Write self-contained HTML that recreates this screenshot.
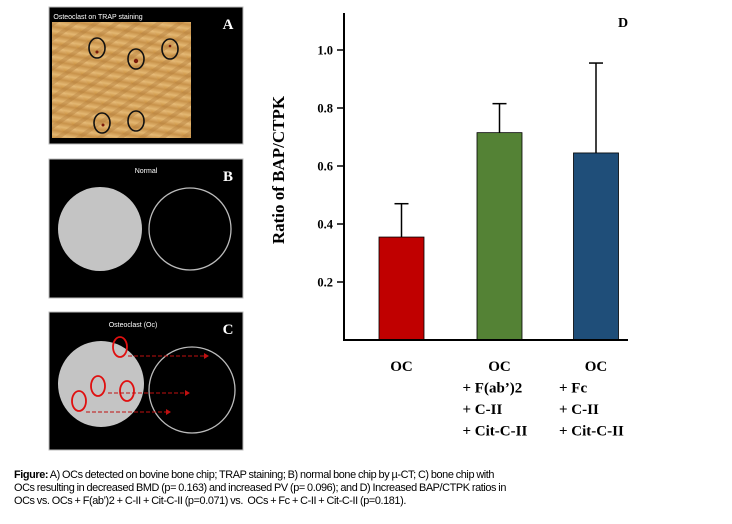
<!DOCTYPE html>
<html><head><meta charset="utf-8">
<style>
html,body{margin:0;padding:0;background:#fff;width:732px;height:524px;overflow:hidden;}
svg{display:block;}
.cap{position:absolute;left:14px;top:469px;width:500px;font-family:"Liberation Sans",sans-serif;font-size:10.9px;line-height:13px;color:#000;letter-spacing:-0.4px;word-spacing:-0.4px;}
</style></head><body>
<svg width="732" height="524">
<defs>
<linearGradient id="bone" x1="0" y1="1" x2="1" y2="0">
<stop offset="0" stop-color="#c98f3e"/><stop offset="0.25" stop-color="#e3b772"/><stop offset="0.5" stop-color="#c8924a"/><stop offset="0.75" stop-color="#e6bb78"/><stop offset="1" stop-color="#cf9850"/>
</linearGradient>
<pattern id="stripes" width="12" height="12" patternUnits="userSpaceOnUse" patternTransform="rotate(-35)">
<rect width="12" height="12" fill="url(#bone)"/><rect width="12" height="4" fill="#b47f3c" opacity="0.45"/>
</pattern>
</defs>
<g>
<rect x="49" y="7" width="194" height="137" fill="#000" stroke="#bbb" stroke-width="1"/>
<rect x="52" y="22" width="139" height="116" fill="url(#stripes)"/>
<text x="98" y="19" font-family="Liberation Sans,sans-serif" font-size="7" fill="#fff" text-anchor="middle">Osteoclast on TRAP staining</text>
<text x="228" y="29" font-family="Liberation Serif,serif" font-size="15" font-weight="bold" fill="#fff" text-anchor="middle">A</text>
<g fill="none" stroke="#111" stroke-width="1.6">
<ellipse cx="97" cy="48" rx="8" ry="10"/><ellipse cx="136" cy="59" rx="8" ry="10"/><ellipse cx="170" cy="49" rx="8" ry="10"/>
<ellipse cx="102" cy="123" rx="8" ry="10"/><ellipse cx="136" cy="121" rx="8" ry="10"/></g>
<g fill="#7a1a0a"><circle cx="97" cy="52" r="1.5"/><circle cx="136" cy="61" r="2.2"/><circle cx="170" cy="46" r="1.3"/><circle cx="103" cy="125" r="1.5"/></g>
</g>
<g>
<rect x="49" y="159" width="194" height="139" fill="#000" stroke="#bbb" stroke-width="1"/>
<text x="146" y="173" font-family="Liberation Sans,sans-serif" font-size="7" fill="#fff" text-anchor="middle">Normal</text>
<text x="228" y="181" font-family="Liberation Serif,serif" font-size="15" font-weight="bold" fill="#fff" text-anchor="middle">B</text>
<circle cx="100" cy="229" r="42" fill="#c4c4c4"/>
<circle cx="190" cy="229" r="41" fill="none" stroke="#bbb" stroke-width="1.3"/>
</g>
<g>
<rect x="49" y="312" width="194" height="138" fill="#000" stroke="#bbb" stroke-width="1"/>
<text x="133" y="327" font-family="Liberation Sans,sans-serif" font-size="7" fill="#fff" text-anchor="middle">Osteoclast (Oc)</text>
<text x="228" y="334" font-family="Liberation Serif,serif" font-size="15" font-weight="bold" fill="#fff" text-anchor="middle">C</text>
<circle cx="101" cy="384" r="43" fill="#c4c4c4"/>
<circle cx="192" cy="390" r="43" fill="none" stroke="#bbb" stroke-width="1.3"/>
<g fill="none" stroke="#e01010" stroke-width="1.8">
<ellipse cx="120" cy="347" rx="7" ry="10"/><ellipse cx="98" cy="386" rx="7" ry="10"/><ellipse cx="127" cy="391" rx="7" ry="10"/><ellipse cx="79" cy="401" rx="7" ry="10"/></g>
<g stroke="#c01010" stroke-width="1" stroke-dasharray="4,2" fill="none">
<line x1="128" y1="356" x2="204" y2="356"/><line x1="108" y1="393" x2="185" y2="393"/><line x1="86" y1="412" x2="166" y2="412"/></g>
<g fill="#c01010"><polygon points="204,353 209,356 204,359"/><polygon points="185,390 190,393 185,396"/><polygon points="166,409 171,412 166,415"/></g>
</g>
<g id="chart"></g>
</svg>
<div class="cap"><b style="font-weight:bold">Figure:</b> A) OCs detected on bovine bone chip; TRAP staining; B) normal bone chip by µ-CT; C) bone chip with<br>OCs resulting in decreased BMD (p= 0.163) and increased PV (p= 0.096); and D) Increased BAP/CTPK ratios in<br>OCs vs. OCs + F(ab’)2 + C-II + Cit-C-II (p=0.071) vs.&nbsp; OCs + Fc + C-II + Cit-C-II (p=0.181).</div>
<script>
const categories = [["OC"],["OC","+ F(ab’)2","+ C-II","+ Cit-C-II"],["OC","+ Fc","+ C-II","+ Cit-C-II"]];
const values = [0.355, 0.715, 0.645];
const errors = [0.115, 0.10, 0.31];
const colors = ["#c00000","#548235","#1f4e79"];
const ticks = [0.2, 0.4, 0.6, 0.8, 1.0];
const tickLabels = ["0.2","0.4","0.6","0.8","1.0"];

const NS = "http://www.w3.org/2000/svg";
const g = document.getElementById("chart");
const x0 = 344, xEnd = 628, yBase = 340, pxPerUnit = 290;
const y = v => yBase - v * pxPerUnit;
const barW = 45, centers = [401.5, 499.5, 596];
const xc = i => centers[i];
function mk(tag, attrs){const e=document.createElementNS(NS,tag);for(const k in attrs)e.setAttribute(k,attrs[k]);g.appendChild(e);return e;}

const ya = mk("line",{x1:x0,y1:13,x2:x0,y2:yBase,stroke:"#000","stroke-width":2});


ticks.forEach((t,i)=>{
  const tk = mk("line",{x1:x0-7,y1:y(t),x2:x0,y2:y(t),stroke:"#000","stroke-width":1.5});
  
  
  const tl = mk("text",{x:x0-11,y:y(t)+4.5,"text-anchor":"end","font-family":"Liberation Serif,serif","font-size":"12.5","font-weight":"bold"});
  tl.textContent = tickLabels[i];
  
  
});
values.forEach((v,i)=>{
  const cx = xc(i);
  const top = y(v+errors[i]);
  const el = mk("line",{x1:cx,y1:y(v),x2:cx,y2:top,stroke:"#000","stroke-width":1.5});
  
  
  const cap = mk("line",{x1:cx-7,y1:top,x2:cx+7,y2:top,stroke:"#000","stroke-width":1.5});
  
  
  const r = mk("rect",{x:cx-barW/2,y:y(v),width:barW,height:yBase-y(v),fill:colors[i],stroke:"#000","stroke-width":0.8});
  
  
  categories[i].forEach((line,j)=>{
    const t = mk("text",{"font-family":"Liberation Serif,serif","font-size":"15","font-weight":"bold"});
    if(j===0){t.setAttribute("x",cx);t.setAttribute("text-anchor","middle");t.setAttribute("y",371);}
    else{t.setAttribute("x",cx-37);t.setAttribute("y",371+j*21.5);}
    t.textContent = line;
    
    
  });
});
const xa = mk("line",{x1:x0-1,y1:yBase,x2:xEnd,y2:yBase,stroke:"#000","stroke-width":2});


const yt = mk("text",{x:0,y:0,transform:"translate(284,170) rotate(-90)","text-anchor":"middle","font-family":"Liberation Serif,serif","font-size":"17","font-weight":"bold"});
yt.textContent = "Ratio of BAP/CTPK";


const d = mk("text",{x:623,y:27,"text-anchor":"middle","font-family":"Liberation Serif,serif","font-size":"14","font-weight":"bold"});
d.textContent = "D";


</script>
</body></html>
